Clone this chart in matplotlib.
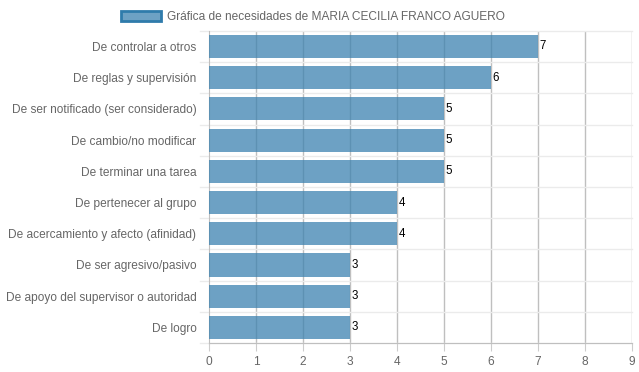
import numpy as np
import matplotlib.pyplot as plt
from matplotlib.patches import Patch

categorias = ['De controlar a otros', 'De reglas y supervisión',
              'De ser notificado (ser considerado)', 'De cambio/no modificar',
              'De terminar una tarea', 'De pertenecer al grupo',
              'De acercamiento y afecto (afinidad)', 'De ser agresivo/pasivo',
              'De apoyo del supervisor o autoridad', 'De logro']
valores = [7, 6, 5, 5, 5, 4, 4, 3, 3, 3]
titulo = 'Gráfica de necesidades de MARIA CECILIA FRANCO AGUERO'

plt.rcParams['font.family'] = ['Liberation Sans', 'DejaVu Sans']

fig = plt.figure(figsize=(6.39, 3.72), dpi=100)
ax = fig.add_axes([0.327, 0.078, 0.662, 0.839])

y = np.arange(len(categorias))
ax.barh(y, valores, height=0.74, color=(0.235, 0.51, 0.69, 0.75), zorder=2)

for yi, v in zip(y, valores):
    ax.text(v + 0.03, yi, str(v), va='center', ha='left', fontsize=8.3, color='black', zorder=3)

ax.set_xlim(0, 9)
ax.set_ylim(len(categorias) - 0.5, -0.5)
ax.set_xticks(range(0, 10))
ax.set_yticks(y)
ax.set_yticklabels(categorias)
ax.tick_params(axis='both', colors='#cccccc', labelcolor='#666666', labelsize=8.6, length=6)
ax.tick_params(axis='y', length=0, pad=9)

# vertical grid lines
for xv in range(1, 10):
    ax.axvline(xv, color='#bfbfbf', lw=1, zorder=1)
# horizontal grid lines at category boundaries, sticking out left like ticks
for b in np.arange(-0.5, len(categorias) - 0.4, 1):
    ax.plot([-0.19, 9], [b, b], color='#ebebeb', lw=1, zorder=1, clip_on=False)

for s in ['top', 'right']:
    ax.spines[s].set_visible(False)
ax.spines['left'].set_color('#bfbfbf')
ax.spines['bottom'].set_color('#bfbfbf')
ax.spines['left'].set_zorder(1)

leg = fig.legend(handles=[Patch(facecolor=(0.235, 0.51, 0.69, 0.75), edgecolor='#2f7bab', lw=2, label=titulo)],
                 loc='upper center', bbox_to_anchor=(0.49, 1.0), frameon=False,
                 fontsize=8.6, handlelength=3.3, handleheight=0.9, handletextpad=0.5)
for t in leg.get_texts():
    t.set_color('#666666')

fig.savefig('out.png', dpi=100)
